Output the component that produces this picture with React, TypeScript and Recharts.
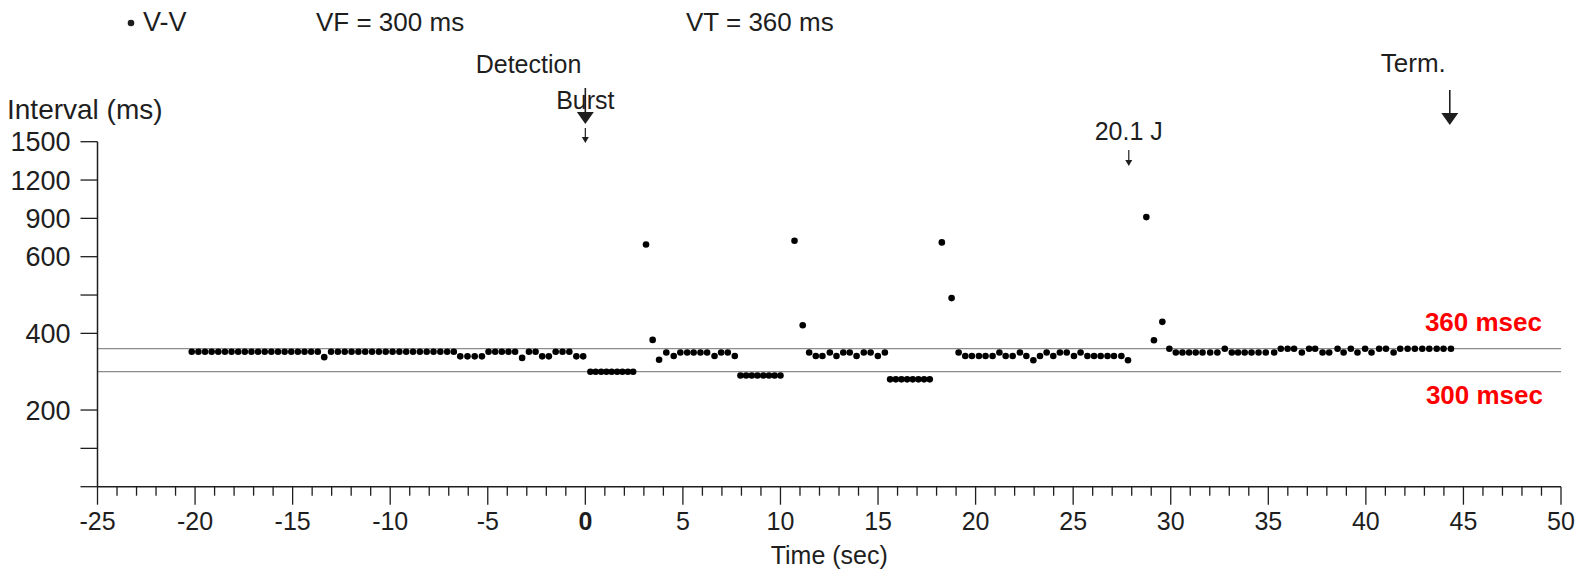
import { ScatterChart, Scatter, XAxis, YAxis, ReferenceLine } from "recharts";

const FONT = '"Liberation Sans", Arial, sans-serif';
const INK = "#1e1e1e";

// V-V beats: time of each beat (sec) and its interval (ms)
const baselineTimes = [
  -20.17, -19.83, -19.49, -19.15, -18.81, -18.47, -18.13, -17.79, -17.45, -17.11,
  -16.77, -16.43, -16.09, -15.75, -15.41, -15.07, -14.73, -14.39, -14.05, -13.71,
  -13.38, -13.03, -12.68, -12.33, -11.98, -11.63, -11.28, -10.93, -10.58, -10.23,
  -9.88, -9.53, -9.18, -8.83, -8.48, -8.13, -7.78, -7.43, -7.08, -6.74,
  -6.41, -6.04, -5.67, -5.3, -4.96, -4.62, -4.28, -3.94, -3.6, -3.24,
  -2.89, -2.55, -2.21, -1.87, -1.52, -1.17, -0.82, -0.46, -0.11,
];
const baselineMs = [
  352, 352, 352, 352, 352, 352, 352, 352, 352, 352,
  352, 352, 352, 352, 352, 352, 352, 352, 352, 352,
  338, 352, 352, 352, 352, 352, 352, 352, 352, 352,
  352, 352, 352, 352, 352, 352, 352, 352, 352, 352,
  340, 340, 340, 340, 352, 352, 352, 352, 352, 336,
  352, 352, 340, 340, 352, 352, 352, 340, 340,
];

const burst1Times = [0.26, 0.53, 0.81, 1.08, 1.35, 1.63, 1.9, 2.18, 2.45];
const burst1Ms = [300, 300, 300, 300, 300, 300, 300, 300, 300];

const after1Times = [3.11, 3.45, 3.78, 4.15, 4.53, 4.87, 5.22, 5.55, 5.9, 6.24, 6.62, 6.96, 7.3, 7.66];
const after1Ms = [695, 383, 331, 350, 341, 350, 350, 350, 350, 350, 341, 350, 350, 341];

const burst2Times = [7.95, 8.24, 8.53, 8.82, 9.12, 9.41, 9.7, 10.0];
const burst2Ms = [290, 290, 290, 290, 290, 290, 290, 290];

const after2Times = [10.72, 11.14, 11.47, 11.81, 12.15, 12.53, 12.87, 13.22, 13.55, 13.9, 14.27, 14.62, 14.99, 15.35];
const after2Ms = [725, 421, 350, 341, 341, 350, 341, 350, 350, 341, 350, 350, 341, 350];

const burst3Times = [15.62, 15.91, 16.2, 16.49, 16.78, 17.07, 17.36, 17.65];
const burst3Ms = [280, 280, 280, 280, 280, 280, 280, 280];

const after3Times = [
  18.27, 18.77, 19.13, 19.47, 19.81, 20.17, 20.51, 20.87, 21.22, 21.54,
  21.9, 22.27, 22.6, 22.96, 23.3, 23.64, 23.98, 24.32, 24.67, 25.04,
  25.38, 25.73, 26.07, 26.41, 26.76, 27.09, 27.47, 27.81,
];
const after3Ms = [
  712, 492, 350, 341, 341, 341, 341, 341, 350, 341,
  341, 350, 341, 330, 341, 350, 341, 350, 350, 341,
  350, 341, 341, 341, 341, 341, 341, 330,
];

const postShockTimes = [
  28.75, 29.14, 29.57, 29.93, 30.26, 30.6, 30.94, 31.28, 31.63, 32.02,
  32.39, 32.77, 33.13, 33.45, 33.79, 34.14, 34.5, 34.87, 35.3, 35.64,
  35.99, 36.32, 36.72, 37.09, 37.4, 37.78, 38.12, 38.55, 38.86, 39.23,
  39.57, 39.96, 40.29, 40.68, 41.03, 41.42, 41.76, 42.14, 42.51, 42.89,
  43.25, 43.63, 43.98, 44.36,
];
const postShockMs = [
  910, 382, 430, 360, 350, 350, 350, 350, 350, 350,
  350, 360, 350, 350, 350, 350, 350, 350, 350, 360,
  360, 360, 350, 360, 360, 350, 350, 360, 350, 360,
  350, 360, 350, 360, 360, 350, 360, 360, 360, 360,
  360, 360, 360, 360,
];

// therapy markers (sec)
const detectionTime = 0;
const shockTime = 27.85;
const termTime = 44.3;

// zones
const vfZone = 300;
const vtZone = 360;

// axis ticks
const yTickMs = [0, 100, 200, 400, 500, 600, 900, 1200, 1500];
const yTickText = ["", "", "200", "400", "", "600", "900", "1200", "1500"];
const xMajor = [-25, -20, -15, -10, -5, 0, 5, 10, 15, 20, 25, 30, 35, 40, 45, 50];
const xTicks = Array.from({ length: 76 }, (_, i) => i - 25);

// the device plot is linear up to 600 ms, then 300 ms per grid step
const toAxis = (ms: number) => (ms <= 600 ? ms : 600 + (ms - 600) / 3);

const segments: [number[], number[]][] = [
  [baselineTimes, baselineMs],
  [burst1Times, burst1Ms],
  [after1Times, after1Ms],
  [burst2Times, burst2Ms],
  [after2Times, after2Ms],
  [burst3Times, burst3Ms],
  [after3Times, after3Ms],
  [postShockTimes, postShockMs],
];
const beats = segments.flatMap(([ts, ms]) => ts.map((t, i) => ({ t, ms: ms[i], y: toAxis(ms[i]) })));

const txt = { fontFamily: FONT, fontSize: 25, fill: INK };

const XTick = ({ x, y, payload }: any) => {
  const v = payload.value;
  const major = xMajor.includes(v);
  return (
    <g>
      <line x1={x} x2={x} y1={y} y2={y + (major ? 18 : 9)} stroke={INK} strokeWidth={1.3} />
      {major && (
        <text x={x} y={y + 35} dy="0.35em" textAnchor="middle" {...txt} fontWeight={v === 0 ? "bold" : "normal"}>
          {v}
        </text>
      )}
    </g>
  );
};

const BigArrow = ({ x, top, bottom }: { x: number; top: number; bottom: number }) => (
  <g>
    <line x1={x} x2={x} y1={top} y2={bottom - 8} stroke={INK} strokeWidth={1.6} />
    <polygon points={`${x - 8.5},${bottom - 12} ${x + 8.5},${bottom - 12} ${x},${bottom}`} fill={INK} />
  </g>
);

const SmallArrow = ({ x, top, bottom }: { x: number; top: number; bottom: number }) => (
  <g>
    <line x1={x} x2={x} y1={top} y2={bottom - 3} stroke={INK} strokeWidth={1.2} />
    <polygon points={`${x - 3.5},${bottom - 6} ${x + 3.5},${bottom - 6} ${x},${bottom}`} fill={INK} />
  </g>
);

const Dot = (p: any) => <circle cx={p.cx} cy={p.cy} r={3.3} fill="#000" />;

const App = () => {
  return (
    <div style={{ position: "absolute", left: 0, top: 0, width: 1575, height: 570, background: "#fff" }}>
      <svg width={1575} height={60} style={{ position: "absolute", left: 0, top: 0 }}>
        <circle cx={131} cy={23} r={3.3} fill={INK} />
        <text x={143} y={22} dy="0.35em" {...txt} fontSize={27}>V-V</text>
        <text x={316} y={22} dy="0.35em" {...txt} fontSize={26}>VF = {vfZone} ms</text>
        <text x={686} y={22} dy="0.35em" {...txt} fontSize={26}>VT = {vtZone} ms</text>
      </svg>
      <ScatterChart width={1575} height={570} margin={{ top: 141.7, right: 14, bottom: 0, left: 0 }}>
        <XAxis
          type="number"
          dataKey="t"
          domain={[-25, 50]}
          ticks={xTicks}
          interval={0}
          tickSize={0}
          tickMargin={0}
          tickLine={false}
          tick={(p: any) => <XTick {...p} />}
          height={83.3}
          axisLine={{ stroke: INK, strokeWidth: 1.5 }}
          label={{
            content: (p: any) => (
              <text x={p.viewBox.x + p.viewBox.width / 2} y={555} dy="0.35em" textAnchor="middle" {...txt}>
                Time (sec)
              </text>
            ),
          }}
        />
        <YAxis
          type="number"
          dataKey="y"
          domain={[0, 900]}
          ticks={yTickMs.map(toAxis)}
          tickFormatter={(v: number) => yTickText[yTickMs.map(toAxis).indexOf(v)]}
          interval={0}
          width={97.5}
          tickSize={17}
          tickMargin={10}
          axisLine={{ stroke: INK, strokeWidth: 1.5 }}
          tickLine={{ stroke: INK, strokeWidth: 1.3 }}
          tick={{ fill: INK, fontSize: 27, fontFamily: FONT }}
          label={{
            content: (p: any) => (
              <text x={p.viewBox.x + 7} y={p.viewBox.y - 33} dy="0.35em" {...txt} fontSize={28}>
                Interval (ms)
              </text>
            ),
          }}
        />
        <ReferenceLine
          y={vtZone}
          stroke="#8c8c8c"
          strokeWidth={1.3}
          label={{
            content: (p: any) => (
              <text x={p.viewBox.x + p.viewBox.width - 19} y={p.viewBox.y - 27} dy="0.35em" textAnchor="end" fontFamily={FONT} fontSize={26} fontWeight="bold" fill="#ff0000">
                {vtZone} msec
              </text>
            ),
          }}
        />
        <ReferenceLine
          y={vfZone}
          stroke="#8c8c8c"
          strokeWidth={1.3}
          label={{
            content: (p: any) => (
              <text x={p.viewBox.x + p.viewBox.width - 18} y={p.viewBox.y + 23} dy="0.35em" textAnchor="end" fontFamily={FONT} fontSize={26} fontWeight="bold" fill="#ff0000">
                {vfZone} msec
              </text>
            ),
          }}
        />
        <ReferenceLine
          x={detectionTime}
          stroke="none"
          label={{
            content: (p: any) => {
              const x = p.viewBox.x;
              return (
                <g>
                  <text x={x - 4} y={64} dy="0.35em" textAnchor="end" {...txt}>Detection</text>
                  <text x={x} y={100} dy="0.35em" textAnchor="middle" {...txt}>Burst</text>
                  <BigArrow x={x} top={88} bottom={124} />
                  <SmallArrow x={x} top={128} bottom={143} />
                </g>
              );
            },
          }}
        />
        <ReferenceLine
          x={shockTime}
          stroke="none"
          label={{
            content: (p: any) => {
              const x = p.viewBox.x;
              return (
                <g>
                  <text x={x} y={131} dy="0.35em" textAnchor="middle" {...txt}>20.1 J</text>
                  <SmallArrow x={x} top={150} bottom={166} />
                </g>
              );
            },
          }}
        />
        <ReferenceLine
          x={termTime}
          stroke="none"
          label={{
            content: (p: any) => {
              const x = p.viewBox.x;
              return (
                <g>
                  <text x={x - 4} y={63} dy="0.35em" textAnchor="end" {...txt} fontSize={26}>Term.</text>
                  <BigArrow x={x} top={90} bottom={125} />
                </g>
              );
            },
          }}
        />
        <Scatter name="V-V" data={beats} fill="#000" shape={Dot} isAnimationActive={false} />
      </ScatterChart>
    </div>
  );
};

export default App;
